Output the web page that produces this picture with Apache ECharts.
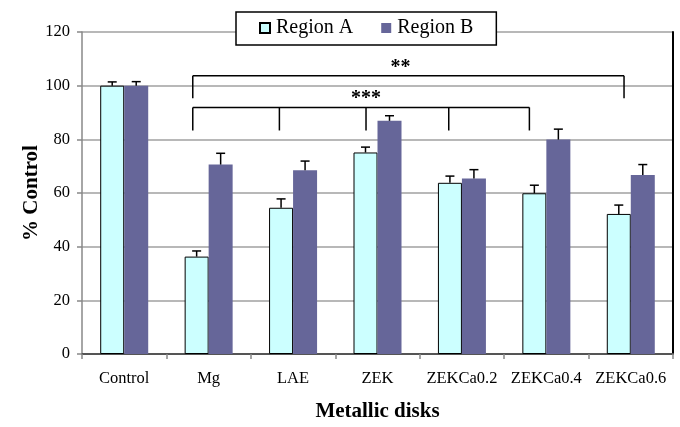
<!DOCTYPE html>
<html>
<head>
<meta charset="utf-8">
<script src="https://cdn.jsdelivr.net/npm/echarts@6/dist/echarts.min.js"></script>
<style>
  html, body { margin: 0; padding: 0; background: #fff; }
  #chart { width: 680px; height: 427px; }
</style>
</head>
<body>
<div id="chart"></div>
<script>
// Cell viability relative to control, per metallic disk, two regions
const categories = ['Control', 'Mg', 'LAE', 'ZEK', 'ZEKCa0.2', 'ZEKCa0.4', 'ZEKCa0.6'];
const regionA    = [100, 36.3, 54.5, 75.1, 63.8, 59.9, 52.2];
const regionAErr = [1.4, 2.1, 3.3, 2.0, 2.5, 3.0, 3.3];
const regionB    = [100, 70.6, 68.5, 86.9, 65.4, 79.9, 66.7];
const regionBErr = [1.5, 4.2, 3.4, 1.9, 3.3, 3.9, 3.9];
const yTicks = [0, 20, 40, 60, 80, 100, 120];

// Significance brackets: joined categories, bracket level, drop end level, label level
const bracketLabels = ['**', '***'];
const bracketCats   = [['Mg', 'ZEKCa0.6'], ['Mg', 'LAE', 'ZEK', 'ZEKCa0.2', 'ZEKCa0.4']];
const bracketTop    = [103.7, 91.9];
const bracketEnd    = [95.3, 83.3];
const bracketLabelY = [106.6, 95.0];
const bracketLabelCat = ['ZEK', 'ZEK'];

// drawing settings
const FONT = '"Liberation Serif", "Times New Roman", serif';
const BAR_W = 24;
// horizontal nudges, in fractions of a category band
const dropNudge = [[-0.188, -0.08], [-0.188, -0.162, -0.136, -0.156, -0.201]];
const labelNudge = [0.272, -0.136];

const chart = echarts.init(document.getElementById('chart'), null, { renderer: 'canvas' });

function errorBarRenderer(offset) {
  return function (params, api) {
    const i = api.value(0);
    const base = api.coord([i, api.value(1)]);
    const top = api.coord([i, api.value(1) + api.value(2)]);
    const x = base[0] + offset;
    const style = { stroke: '#000', lineWidth: 1.5 };
    return {
      type: 'group',
      children: [
        { type: 'line', shape: { x1: x, y1: base[1], x2: x, y2: top[1] }, style },
        { type: 'line', shape: { x1: x - 4.5, y1: top[1], x2: x + 4.5, y2: top[1] }, style }
      ]
    };
  };
}

function bracketRenderer(params, api) {
  const k = params.dataIndex;
  const band = api.size([1, 0])[0];
  const xs = bracketCats[k].map((c, j) => api.coord([categories.indexOf(c), 0])[0] + dropNudge[k][j] * band);
  const yTop = api.coord([0, bracketTop[k]])[1];
  const yEnd = api.coord([0, bracketEnd[k]])[1];
  const lab = api.coord([categories.indexOf(bracketLabelCat[k]), bracketLabelY[k]]);
  const style = { stroke: '#000', lineWidth: 1.5 };
  const children = [
    { type: 'line', shape: { x1: xs[0], y1: yTop, x2: xs[xs.length - 1], y2: yTop }, style }
  ];
  xs.forEach(x => children.push({ type: 'line', shape: { x1: x, y1: yTop, x2: x, y2: yEnd }, style }));
  children.push({
    type: 'text',
    x: lab[0] + labelNudge[k] * band,
    y: lab[1],
    style: { text: bracketLabels[k], font: 'bold 20px ' + FONT, fill: '#000', align: 'center', verticalAlign: 'middle' }
  });
  return { type: 'group', children };
}

const option = {
  animation: false,
  backgroundColor: '#fff',
  textStyle: { fontFamily: FONT },
  grid: { left: 82, right: 7, top: 32, bottom: 72 },
  legend: {
    data: ['Region A', 'Region B'],
    left: 236,
    top: 12,
    padding: [6, 23, 7, 23],
    itemGap: 28,
    itemWidth: 10,
    itemHeight: 10,
    icon: 'rect',
    backgroundColor: '#fff',
    borderColor: '#000',
    borderWidth: 1.5,
    borderRadius: 0,
    textStyle: { fontFamily: FONT, fontSize: 20, color: '#000', padding: [0, 0, 0, 1] }
  },
  xAxis: [
    {
      type: 'category',
      data: categories,
      name: 'Metallic disks',
      nameLocation: 'middle',
      nameGap: 47,
      nameTextStyle: { fontFamily: FONT, fontSize: 21, fontWeight: 'bold', color: '#000' },
      axisLine: { lineStyle: { color: '#888', width: 1.5 } },
      axisTick: { show: true, length: 5, lineStyle: { color: '#888', width: 1.5 } },
      axisLabel: { fontFamily: FONT, fontSize: 16.5, color: '#000', margin: 16, interval: 0 }
    },
    {
      type: 'category',
      data: categories,
      position: 'top',
      axisLine: { lineStyle: { color: '#555', width: 2 } },
      axisTick: { show: false },
      axisLabel: { show: false }
    }
  ],
  yAxis: [
    {
      type: 'value',
      min: yTicks[0],
      max: yTicks[yTicks.length - 1],
      interval: yTicks[1] - yTicks[0],
      name: '% Control',
      nameLocation: 'middle',
      nameGap: 40,
      nameMoveOverlap: false,
      nameTextStyle: { fontFamily: FONT, fontSize: 21, fontWeight: 'bold', color: '#000' },
      axisLine: { show: true, lineStyle: { color: '#888', width: 1.5 } },
      axisTick: { show: true, length: 5, lineStyle: { color: '#888', width: 1.5 } },
      axisLabel: { fontFamily: FONT, fontSize: 16.5, color: '#000', margin: 12 },
      splitLine: { show: true, lineStyle: { color: '#a0a0a0', width: 1.5 } }
    },
    {
      type: 'value',
      min: yTicks[0],
      max: yTicks[yTicks.length - 1],
      position: 'right',
      axisLine: { show: true, lineStyle: { color: '#000', width: 2 } },
      axisTick: { show: false },
      axisLabel: { show: false },
      splitLine: { show: false }
    }
  ],
  series: [
    {
      name: 'Region A',
      type: 'bar',
      data: regionA,
      barWidth: BAR_W,
      barGap: '0%',
      itemStyle: { color: '#ccffff', borderColor: '#000', borderWidth: 1 }
    },
    {
      name: 'Region B',
      type: 'bar',
      data: regionB,
      barWidth: BAR_W,
      barGap: '0%',
      itemStyle: { color: '#666699' }
    },
    {
      name: 'errA',
      type: 'custom',
      z: 5,
      renderItem: errorBarRenderer(-BAR_W / 2),
      data: regionA.map((v, i) => [i, v, regionAErr[i]]),
      encode: { x: 0, y: 1 }
    },
    {
      name: 'errB',
      type: 'custom',
      z: 5,
      renderItem: errorBarRenderer(BAR_W / 2),
      data: regionB.map((v, i) => [i, v, regionBErr[i]]),
      encode: { x: 0, y: 1 }
    },
    {
      name: 'brackets',
      type: 'custom',
      z: 6,
      clip: false,
      renderItem: bracketRenderer,
      data: bracketTop.map((v, k) => [categories.indexOf(bracketCats[k][0]), v]),
      encode: { x: 0, y: 1 }
    }
  ]
};

chart.setOption(option);
</script>
</body>
</html>
